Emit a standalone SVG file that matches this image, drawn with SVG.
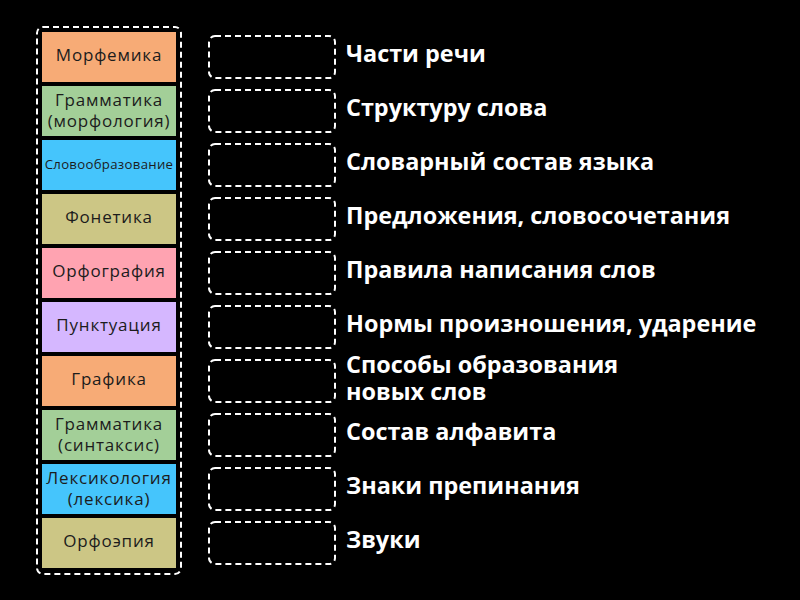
<svg xmlns="http://www.w3.org/2000/svg" width="800" height="600" viewBox="0 0 800 600">
<style>
.card{stroke:none}
.ct{font-family:"Open Sans","Noto Sans","DejaVu Sans",sans-serif;font-size:17px;letter-spacing:0.8px;fill:#1c1c1c;text-anchor:middle}
.sm{font-size:13.2px;letter-spacing:0.3px}
.slot{fill:none;stroke:#fff;stroke-width:2;stroke-dasharray:6,4}
.lbl{font-family:"Open Sans","Noto Sans","DejaVu Sans",sans-serif;font-size:23.4px;font-weight:bold;fill:#fff}
</style>
<rect width="800" height="600" fill="#000"/>
<rect id="tray" x="37" y="27" width="144" height="547" rx="6" fill="none" stroke="#fff" stroke-width="2" stroke-dasharray="6,4"/>
<g id="cards">
<g id="c1"><rect class="card" x="42" y="32" width="134" height="50" fill="#F7AB76"/><text class="ct" x="109" y="61">Морфемика</text></g>
<g id="c2"><rect class="card" x="42" y="86" width="134" height="50" fill="#A3CF98"/><text class="ct" x="109" y="106">Грамматика</text><text class="ct" x="109" y="126.5">(морфология)</text></g>
<g id="c3"><rect class="card" x="42" y="140" width="134" height="50" fill="#45C5FC"/><text class="ct sm" x="109" y="168.5">Словообразование</text></g>
<g id="c4"><rect class="card" x="42" y="194" width="134" height="50" fill="#CCC685"/><text class="ct" x="109" y="223">Фонетика</text></g>
<g id="c5"><rect class="card" x="42" y="248" width="134" height="50" fill="#FFA3B1"/><text class="ct" x="109" y="277">Орфография</text></g>
<g id="c6"><rect class="card" x="42" y="302" width="134" height="50" fill="#D5B7FF"/><text class="ct" x="109" y="331">Пунктуация</text></g>
<g id="c7"><rect class="card" x="42" y="356" width="134" height="50" fill="#F7AB76"/><text class="ct" x="109" y="385">Графика</text></g>
<g id="c8"><rect class="card" x="42" y="410" width="134" height="50" fill="#A3CF98"/><text class="ct" x="109" y="430">Грамматика</text><text class="ct" x="109" y="450.5">(синтаксис)</text></g>
<g id="c9"><rect class="card" x="42" y="464" width="134" height="50" fill="#45C5FC"/><text class="ct" x="109" y="484">Лексикология</text><text class="ct" x="109" y="504.5">(лексика)</text></g>
<g id="c10"><rect class="card" x="42" y="518" width="134" height="50" fill="#CCC685"/><text class="ct" x="109" y="547">Орфоэпия</text></g>
</g>
<g id="slots">
<rect class="slot" x="209" y="36" width="126" height="42" rx="6"/>
<rect class="slot" x="209" y="90" width="126" height="42" rx="6"/>
<rect class="slot" x="209" y="144" width="126" height="42" rx="6"/>
<rect class="slot" x="209" y="198" width="126" height="42" rx="6"/>
<rect class="slot" x="209" y="252" width="126" height="42" rx="6"/>
<rect class="slot" x="209" y="306" width="126" height="42" rx="6"/>
<rect class="slot" x="209" y="360" width="126" height="42" rx="6"/>
<rect class="slot" x="209" y="414" width="126" height="42" rx="6"/>
<rect class="slot" x="209" y="468" width="126" height="42" rx="6"/>
<rect class="slot" x="209" y="522" width="126" height="42" rx="6"/>
</g>
<g id="labels">
<text class="lbl" x="346" y="62">Части речи</text>
<text class="lbl" x="346" y="116">Структуру слова</text>
<text class="lbl" x="346" y="170">Словарный состав языка</text>
<text class="lbl" x="346" y="224">Предложения, словосочетания</text>
<text class="lbl" x="346" y="278">Правила написания слов</text>
<text class="lbl" x="346" y="332">Нормы произношения, ударение</text>
<text class="lbl" x="346" y="373">Способы образования</text>
<text class="lbl" x="346" y="400">новых слов</text>
<text class="lbl" x="346" y="440">Состав алфавита</text>
<text class="lbl" x="346" y="494">Знаки препинания</text>
<text class="lbl" x="346" y="548">Звуки</text>
</g>
</svg>
